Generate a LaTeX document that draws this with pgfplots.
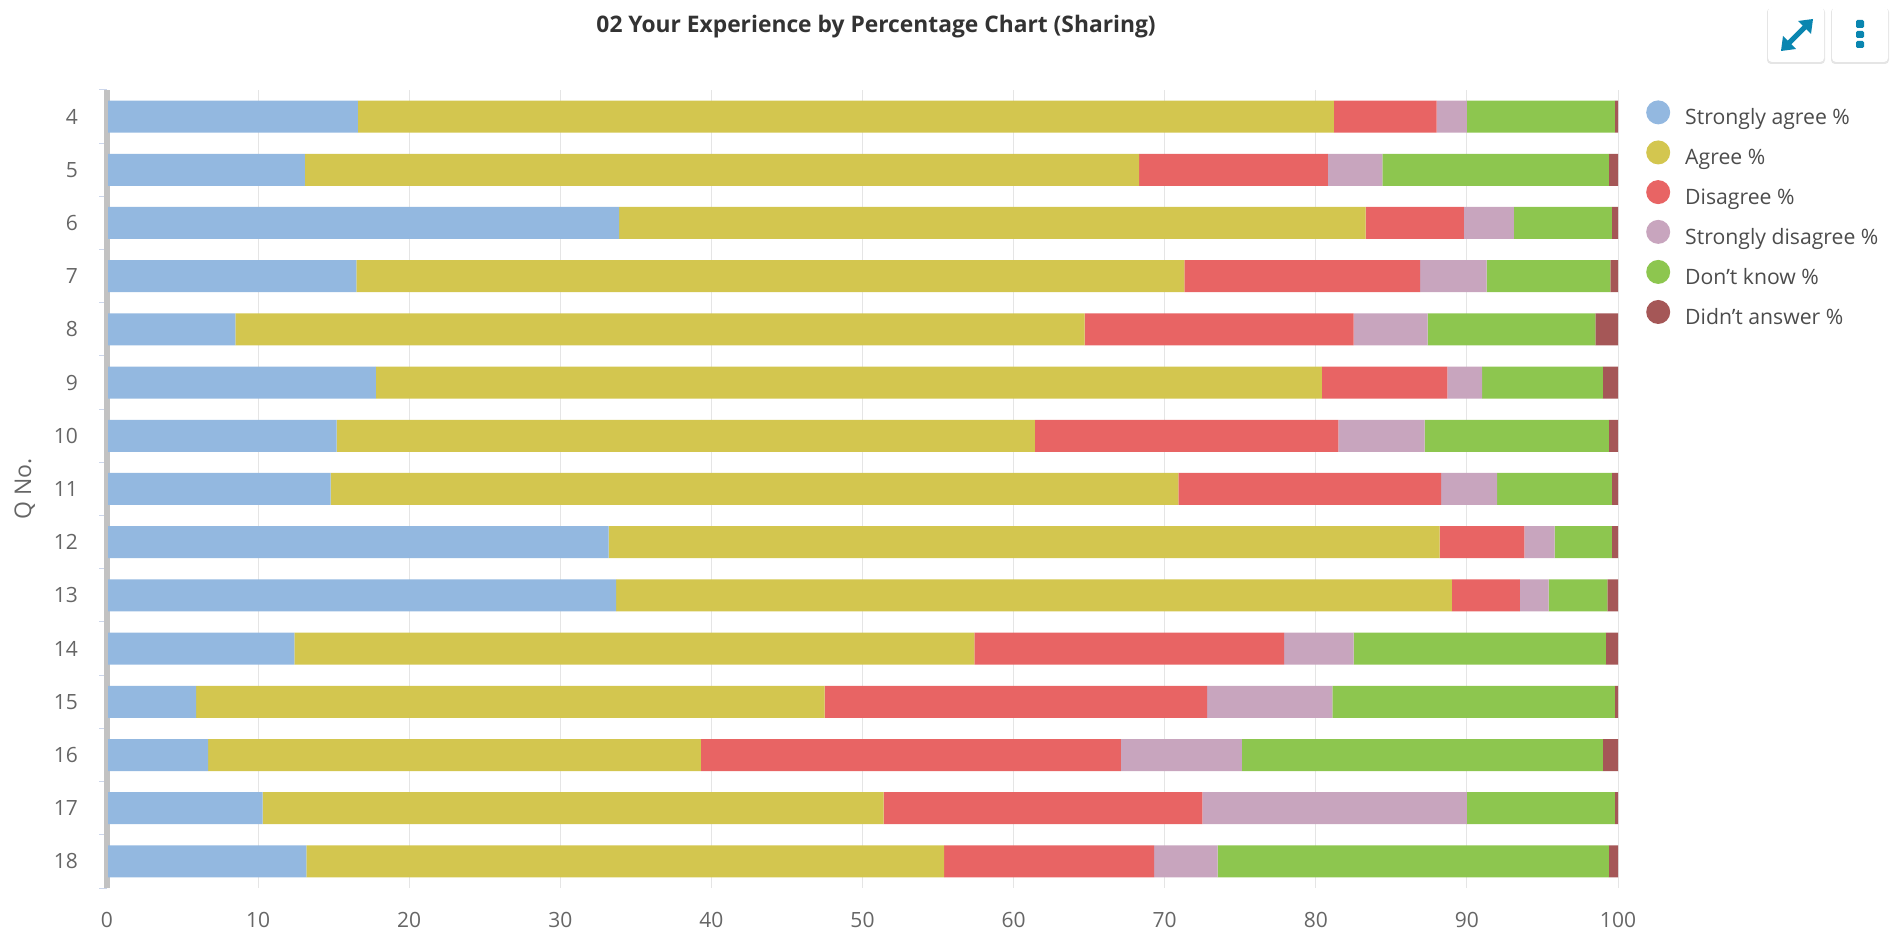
\documentclass[border=0pt]{standalone}
\usepackage{fontspec}
\setmainfont{Open Sans}
\usepackage{pgfplots}
\pgfplotsset{compat=1.18}
\definecolor{cA}{HTML}{93B8E0}
\definecolor{cB}{HTML}{D3C64F}
\definecolor{cC}{HTML}{E86464}
\definecolor{cD}{HTML}{C8A5BE}
\definecolor{cE}{HTML}{8DC64F}
\definecolor{cF}{HTML}{A55757}
\definecolor{txt}{HTML}{666666}
\definecolor{icon}{HTML}{0A86B0}
\definecolor{tk}{RGB}{204,214,235}
\pgfplotsset{legend circle/.style={legend image code/.code={\fill[##1] (0pt,3pt) circle (6pt);\path (11.5pt,0pt);}}}
\begin{document}
\begin{tikzpicture}
\path[use as bounding box] (0,0) rectangle (946pt,476pt);
\fill[black!24] (52pt,32pt) rectangle (55pt,431pt);
\begin{axis}[
  at={(53.5pt,32pt)}, anchor=south west, scale only axis,
  width=755.5pt, height=399pt,
  xbar stacked, bar width=16pt,
  xmin=0, xmax=100, ymin=-0.5, ymax=14.5, y dir=reverse,
  axis line style={draw=none},
  xtick={10,20,...,100}, extra x ticks={0},
  extra x tick style={grid=none},
  ytick={0,...,14},
  yticklabels={4,5,6,7,8,9,10,11,12,13,14,15,16,17,18},
  minor ytick={-0.5,0.5,...,14.5},
  ytick pos=left, xtick pos=bottom,
  xmajorgrids, major grid style={draw=black!10, line width=0.5pt},
  tick align=outside, major tick length=0pt,
  minor tick length=4pt,
  minor y tick style={draw=tk, line width=0.5pt},
  y tick style={draw=tk, line width=0.5pt},
  x tick style={draw=none},
  ticklabel style={font=\fontsize{10.5pt}{12pt}\selectfont, text=txt},
  /pgf/number format/assume math mode=true,
  yticklabel style={xshift=-11pt},
  xticklabel style={yshift=-8.5pt},
  ylabel={Q No.},
  ylabel style={font=\fontsize{11.5pt}{13pt}\selectfont, text=txt, at={(rel axis cs:-0.0545,0.5)}, anchor=center, rotate=0},
  title={\bfseries 02 Your Experience by Percentage Chart (Sharing)},
  title style={font=\fontsize{11.4pt}{13pt}\selectfont, text=black!80, at={(rel axis cs:0.509,1.064)}, anchor=center},
  legend style={at={(rel axis cs:1.0184,0.9875)}, anchor=north west, draw=none, fill=none,
    font=\fontsize{10.6pt}{12pt}\selectfont, text=black!70, row sep=4.25pt, inner sep=0pt},
  legend cell align=left,
]
\addplot[fill=cA, draw=none, legend circle] coordinates {(16.6,0)(13.1,1)(33.9,2)(16.5,3)(8.5,4)(17.8,5)(15.2,6)(14.8,7)(33.2,8)(33.7,9)(12.4,10)(5.9,11)(6.7,12)(10.3,13)(13.2,14)};
\addplot[fill=cB, draw=none, legend circle] coordinates {(64.6,0)(55.2,1)(49.4,2)(54.8,3)(56.2,4)(62.6,5)(46.2,6)(56.1,7)(55.0,8)(55.3,9)(45.0,10)(41.6,11)(32.6,12)(41.1,13)(42.2,14)};
\addplot[fill=cC, draw=none, legend circle] coordinates {(6.8,0)(12.5,1)(6.5,2)(15.6,3)(17.8,4)(8.3,5)(20.1,6)(17.4,7)(5.6,8)(4.5,9)(20.5,10)(25.3,11)(27.8,12)(21.1,13)(13.9,14)};
\addplot[fill=cD, draw=none, legend circle] coordinates {(2.0,0)(3.6,1)(3.3,2)(4.4,3)(4.9,4)(2.3,5)(5.7,6)(3.7,7)(2.0,8)(1.9,9)(4.6,10)(8.3,11)(8.0,12)(17.5,13)(4.2,14)};
\addplot[fill=cE, draw=none, legend circle] coordinates {(9.8,0)(15.0,1)(6.5,2)(8.2,3)(11.1,4)(8.0,5)(12.2,6)(7.6,7)(3.8,8)(3.9,9)(16.7,10)(18.7,11)(23.9,12)(9.8,13)(25.9,14)};
\addplot[fill=cF, draw=none, legend circle] coordinates {(0.2,0)(0.6,1)(0.4,2)(0.5,3)(1.5,4)(1.0,5)(0.6,6)(0.4,7)(0.4,8)(0.7,9)(0.8,10)(0.2,11)(1.0,12)(0.2,13)(0.6,14)};
\legend{Strongly agree \%,Agree \%,Disagree \%,Strongly disagree \%,Don't know \%,Didn't answer \%}
\end{axis}
\fill[black!24] (52pt,32pt) rectangle (54.15pt,431pt);
\begin{scope}[x=0.5pt,y=-0.5pt,yshift=476pt]
  \foreach \a/\b in {1768/1824,1832/1888}{
    \fill[black!10,rounded corners=2pt] (\a-1,8) rectangle (\b+1,64);
    \fill[white,rounded corners=2pt] (\a,7) rectangle (\b,62);
  }
  \draw[icon,line width=2.5pt] (1788,44)--(1806,26);
  \fill[icon] (1813,19)--(1798,21)--(1811,34)--cycle;
  \fill[icon] (1781,51)--(1796,49)--(1783,36)--cycle;
  \fill[icon,rounded corners=0.7pt] (1856,20) rectangle (1864,28);
  \fill[icon,rounded corners=0.7pt] (1856,31) rectangle (1864,38);
  \fill[icon,rounded corners=0.7pt] (1856,41) rectangle (1864,48);
\end{scope}
\end{tikzpicture}
\end{document}
